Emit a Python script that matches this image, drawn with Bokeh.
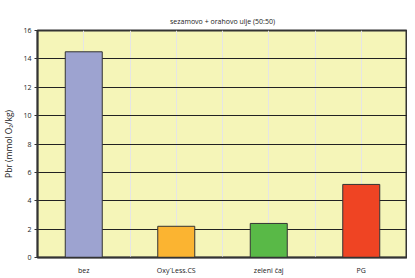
from bokeh.plotting import figure
from bokeh.models import (ColumnDataSource, Range1d, LinearAxis, Grid,
                          FixedTicker, Title)
from bokeh.embed import file_html
from bokeh.resources import INLINE

categories = ["bez", "Oxy´Less.CS", "zeleni čaj", "PG"]
values = [14.5, 2.2, 2.4, 5.15]
colors = ["#9DA3D0", "#FBB431", "#59B947", "#EF4423"]
title_text = "sezamovo + orahovo ulje (50:50)"
y_label = "Pbr (mmol O₂/kg)"
y_ticks = [0, 2, 4, 6, 8, 10, 12, 14, 16]

FONT = "Open Sans"
DARK = "#333333"

n = len(categories)
centers = [i + 0.5 for i in range(n)]
src = ColumnDataSource(dict(x=centers, val=values, col=colors))

p = figure(width=407, height=277, output_backend="svg", toolbar_location=None,
           x_range=Range1d(0, n), y_range=Range1d(0, 16),
           x_axis_location=None, y_axis_location=None,
           min_border_left=33, min_border_right=0, min_border_top=30, min_border_bottom=16)

p.background_fill_color = "#F5F5B8"
p.border_fill_color = "white"
p.outline_line_color = DARK
p.outline_line_width = 2

grid = Grid(dimension=1, ticker=FixedTicker(ticks=y_ticks),
            grid_line_color="#222222", grid_line_width=1)
p.add_layout(grid)

p.vbar(x="x", top="val", width=0.4, bottom=0, fill_color="col",
       line_color=DARK, line_width=1, source=src)

# y axis
yaxis = LinearAxis(ticker=FixedTicker(ticks=y_ticks), axis_label=y_label)
yaxis.axis_line_color = DARK
yaxis.axis_line_width = 1.5
yaxis.major_tick_in = 2
yaxis.major_tick_out = 3
yaxis.minor_tick_line_color = None
yaxis.major_tick_line_color = DARK
yaxis.major_label_text_font = FONT
yaxis.major_label_text_font_size = "7px"
yaxis.major_label_text_color = "#222222"
yaxis.major_label_standoff = 3
yaxis.axis_label_text_font = FONT
yaxis.axis_label_text_font_size = "8.5px"
yaxis.axis_label_text_font_style = "normal"
yaxis.axis_label_text_color = "#222222"
yaxis.axis_label_standoff = 6
p.add_layout(yaxis, "left")

# category labels at slot centres
xaxis = LinearAxis(ticker=FixedTicker(ticks=centers),
                   major_label_overrides={c: lab for c, lab in zip(centers, categories)})
xaxis.axis_line_color = DARK
xaxis.axis_line_width = 1.5
xaxis.major_tick_line_color = None
xaxis.major_tick_in = 0
xaxis.major_tick_out = 3
xaxis.minor_tick_line_color = None
xaxis.major_label_text_font = FONT
xaxis.major_label_text_font_size = "7px"
xaxis.major_label_text_color = "#222222"
xaxis.major_label_standoff = 5
p.add_layout(xaxis, "below")

p.add_layout(Title(text=title_text, text_font=FONT, text_font_size="7px",
                   text_font_style="normal", text_color="#222222",
                   align="center", offset=18, standoff=10), "above")

open("out.html", "w").write(file_html(p, INLINE))
